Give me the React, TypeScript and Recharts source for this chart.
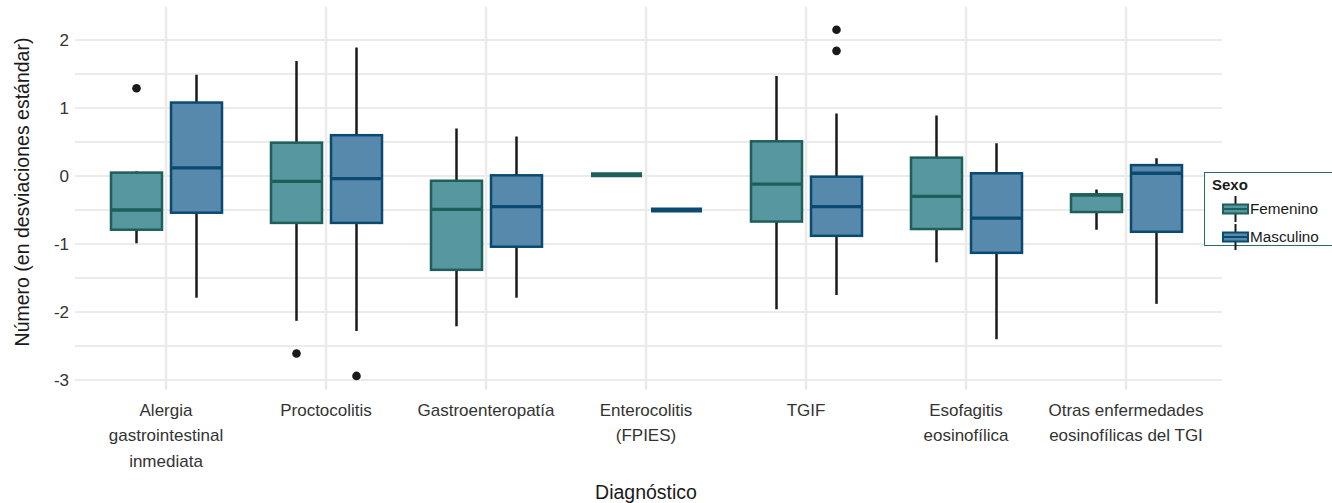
import { ComposedChart, Bar, XAxis, YAxis, CartesianGrid, ReferenceLine } from "recharts";

// Diagnoses (x categories), "\n" marks a line break in the tick label
const categories = [
  "Alergia\ngastrointestinal\ninmediata",
  "Proctocolitis",
  "Gastroenteropatía",
  "Enterocolitis\n(FPIES)",
  "TGIF",
  "Esofagitis\neosinofílica",
  "Otras enfermedades\neosinofílicas del TGI",
];

// Femenino box stats
const femLow = [-0.99, -2.13, -2.21, 0.02, -1.96, -1.27, -0.79];
const femQ1 = [-0.79, -0.69, -1.38, 0.02, -0.67, -0.78, -0.53];
const femMed = [-0.5, -0.08, -0.49, 0.02, -0.12, -0.3, -0.28];
const femQ3 = [0.05, 0.49, -0.07, 0.02, 0.51, 0.27, -0.27];
const femHigh = [0.07, 1.69, 0.7, 0.02, 1.47, 0.89, -0.2];
const femOut = [[1.29], [-2.61], [], [], [], [], []];

// Masculino box stats
const mascLow = [-1.79, -2.28, -1.79, -0.5, -1.75, -2.4, -1.88];
const mascQ1 = [-0.54, -0.69, -1.04, -0.5, -0.88, -1.13, -0.82];
const mascMed = [0.12, -0.04, -0.45, -0.5, -0.45, -0.62, 0.04];
const mascQ3 = [1.08, 0.6, 0.01, -0.5, -0.01, 0.04, 0.16];
const mascHigh = [1.49, 1.89, 0.58, -0.5, 0.92, 0.48, 0.26];
const mascOut = [[], [-2.94], [], [], [2.15, 1.84], [], []];

const yTicks = [-3, -2, -1, 0, 1, 2];
const yGrid = [-3, -2.5, -2, -1.5, -1, -0.5, 0, 0.5, 1, 1.5, 2];

// reference range handed to the bars so the shape can read the y scale
const REF_LO = -3;
const REF_HI = 2;

const FONT = "'Liberation Sans', Arial, sans-serif";
const GRID = "#ebebeb";

const SEX = {
  fem: { name: "Femenino", fill: "#5798a0", stroke: "#1e5e5b" },
  masc: { name: "Masculino", fill: "#5689ab", stroke: "#0b4a70" },
};

const data = categories.map((cat, i) => ({
  cat,
  refF: [REF_LO, REF_HI],
  refM: [REF_LO, REF_HI],
  fem: { low: femLow[i], q1: femQ1[i], med: femMed[i], q3: femQ3[i], high: femHigh[i], out: femOut[i] },
  masc: { low: mascLow[i], q1: mascQ1[i], med: mascMed[i], q3: mascQ3[i], high: mascHigh[i], out: mascOut[i] },
}));

const makeBox = (key: "fem" | "masc") => (props: any) => {
  const { x, y, width, height, payload } = props;
  const s = payload[key];
  const col = SEX[key];
  const k = height / (REF_HI - REF_LO);
  const py = (v: number) => y + (REF_HI - v) * k;
  const cx = x + width / 2;
  const flat = s.q1 === s.q3;
  return (
    <g>
      <line x1={cx} x2={cx} y1={py(s.high)} y2={py(s.q3)} stroke="#1a1a1a" strokeWidth={2.5} />
      <line x1={cx} x2={cx} y1={py(s.q1)} y2={py(s.low)} stroke="#1a1a1a" strokeWidth={2.5} />
      {!flat && (
        <rect
          x={x}
          y={py(s.q3)}
          width={width}
          height={py(s.q1) - py(s.q3)}
          fill={col.fill}
          stroke={col.stroke}
          strokeWidth={2.5}
        />
      )}
      <line
        x1={x}
        x2={x + width}
        y1={py(s.med)}
        y2={py(s.med)}
        stroke={col.stroke}
        strokeWidth={flat ? 5 : 3.3}
      />
      {s.out.map((v: number, j: number) => (
        <circle key={j} cx={cx} cy={py(v)} r={4.3} fill="#1a1a1a" />
      ))}
    </g>
  );
};

const XTick = (props: any) => {
  const { x, y, payload } = props;
  const lines = String(payload.value).split("\n");
  return (
    <text x={x} y={y + 20} textAnchor="middle" fontSize={17} fontFamily={FONT} fill="#333">
      {lines.map((l, i) => (
        <tspan key={i} x={x} dy={i === 0 ? "0.35em" : 25.5}>
          {l}
        </tspan>
      ))}
    </text>
  );
};

const LegendKey = ({ fill, stroke }: { fill: string; stroke: string }) => (
  <svg width={27} height={26} style={{ display: "block" }}>
    <line x1={13.5} x2={13.5} y1={0} y2={26} stroke="#1a1a1a" strokeWidth={2} />
    <rect x={1} y={8.5} width={25} height={9} fill={fill} stroke={stroke} strokeWidth={2} />
    <line x1={1} x2={26} y1={13} y2={13} stroke={stroke} strokeWidth={2} />
  </svg>
);

export default function App() {
  return (
    <div style={{ position: "absolute", left: 0, top: 0, width: 1332, height: 503, background: "#fff" }}>
      <ComposedChart
        width={1332}
        height={503}
        data={data}
        margin={{ top: 7, right: 110, bottom: 0, left: 0 }}
        barSize={51}
        barGap={9}
      >
        <CartesianGrid stroke={GRID} strokeWidth={2} horizontalValues={yGrid} vertical={false} />
        {categories.map((c) => (
          <ReferenceLine key={c} x={c} stroke={GRID} strokeWidth={2.5} />
        ))}
        <XAxis
          dataKey="cat"
          height={113}
          tickLine={false}
          axisLine={false}
          tickSize={0}
          tickMargin={0}
          interval={0}
          padding={{ left: 11, right: 16 }}
          tick={<XTick />}
          label={{
            content: () => (
              <text x={646} y={492} textAnchor="middle" dominantBaseline="central" fontSize={19.5} fontFamily={FONT} fill="#1a1a1a">
                Diagnóstico
              </text>
            ),
          }}
        />
        <YAxis
          type="number"
          width={75}
          domain={[-3.147, 2.485]}
          ticks={yTicks}
          allowDataOverflow
          tickLine={false}
          axisLine={false}
          tickSize={4}
          tickMargin={2}
          tick={{ fontSize: 17, fontFamily: FONT, fill: "#333" }}
          label={{
            content: () => (
              <text
                x={22}
                y={192}
                transform="rotate(-90, 22, 192)"
                textAnchor="middle"
                dominantBaseline="central"
                fontSize={19.5}
                fontFamily={FONT}
                fill="#1a1a1a"
              >
                Número (en desviaciones estándar)
              </text>
            ),
          }}
        />
        <Bar dataKey="refF" name="Femenino" shape={makeBox("fem")} isAnimationActive={false} />
        <Bar dataKey="refM" name="Masculino" shape={makeBox("masc")} isAnimationActive={false} />
      </ComposedChart>
      <div
        style={{
          position: "absolute",
          left: 1204,
          top: 172,
          width: 130,
          height: 74,
          border: "1px solid #2a6b66",
          boxSizing: "border-box",
          fontFamily: FONT,
          color: "#1a1a1a",
          background: "#fff",
        }}
      >
        <div style={{ position: "absolute", left: 7, top: 3, fontSize: 15, fontWeight: "bold" }}>Sexo</div>
        <div style={{ position: "absolute", left: 17, top: 23, display: "flex", alignItems: "center" }}>
          <LegendKey fill={SEX.fem.fill} stroke={SEX.fem.stroke} />
          <span style={{ fontSize: 15.3, marginLeft: 1 }}>Femenino</span>
        </div>
        <div style={{ position: "absolute", left: 17, top: 51, display: "flex", alignItems: "center" }}>
          <LegendKey fill={SEX.masc.fill} stroke={SEX.masc.stroke} />
          <span style={{ fontSize: 15.3, marginLeft: 1 }}>Masculino</span>
        </div>
      </div>
    </div>
  );
}
